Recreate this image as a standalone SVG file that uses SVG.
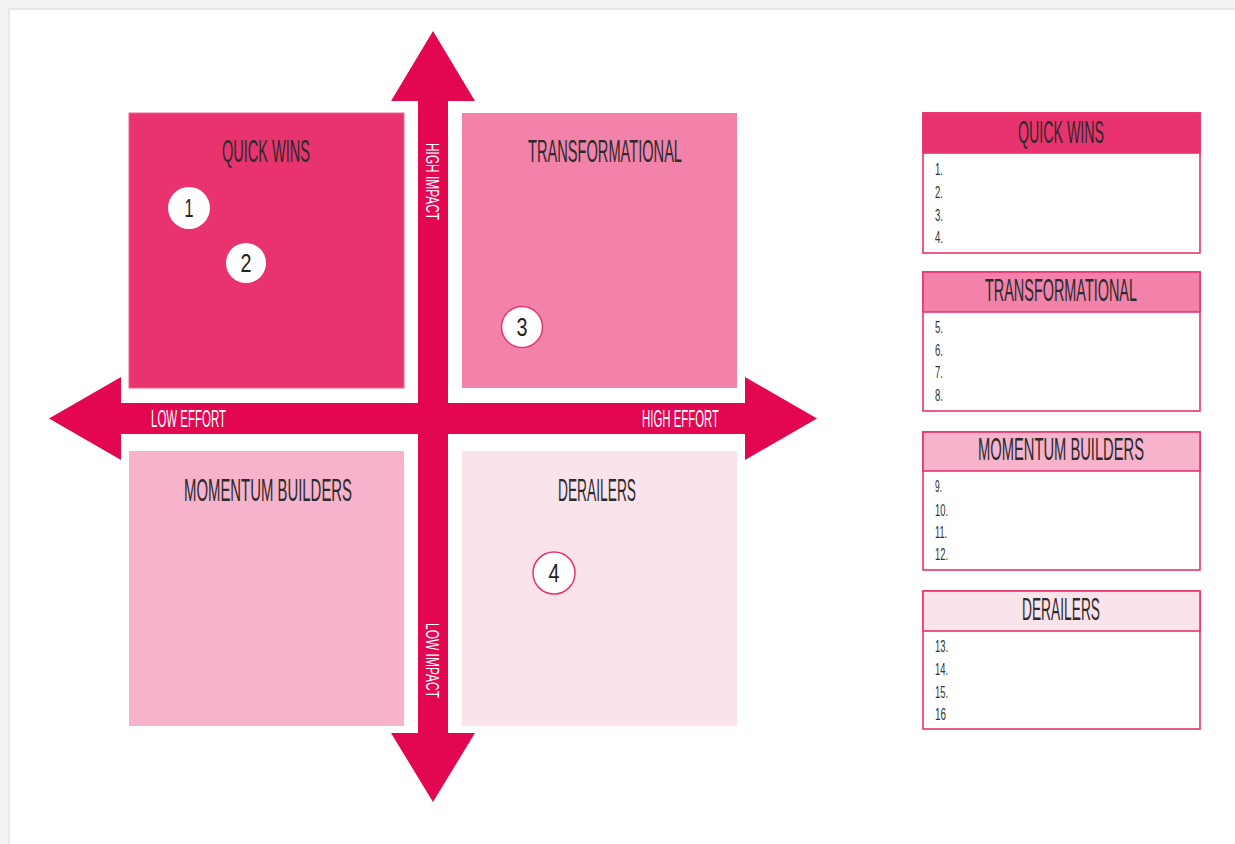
<svg xmlns="http://www.w3.org/2000/svg" width="1235" height="844" viewBox="0 0 1235 844">
<style>
.t{font-family:"Liberation Sans",Arial,sans-serif;fill:#2b2b2b;text-anchor:middle}
.ttl{font-size:21px}
.ax{font-family:"Liberation Sans",Arial,sans-serif;fill:#ffffff;font-size:23px}
.num{font-family:"Liberation Sans",Arial,sans-serif;fill:#222;font-size:26px;text-anchor:middle}
.li{font-family:"Liberation Sans",Arial,sans-serif;fill:#333;font-size:16px}
.box{stroke:#e8336f;stroke-width:1.6}
.q1{fill:#e8336f}.q2{fill:#f282aa}.q3{fill:#f6b3cb}.q4{fill:#fbe3ec}
.dot{fill:#ffffff}
.dotp{fill:#ffffff;stroke:#e8336f;stroke-width:1.5}
</style>
<rect x="0" y="0" width="1235" height="844" fill="#ffffff"/>
<rect x="0" y="0" width="1235" height="8" fill="#f2f2f2"/>
<rect x="0" y="8" width="1235" height="2" fill="#e6e6e6"/>
<rect x="0" y="0" width="8" height="844" fill="#f3f3f3"/>
<rect x="8" y="8" width="2" height="836" fill="#e8e8e8"/>

<g id="quick-wins">
<rect class="q1" x="129" y="113" width="275" height="275" stroke="#ee6593" stroke-width="1"/>
<text class="t ttl" transform="translate(266,162) scale(1,1.45)" textLength="88" lengthAdjust="spacingAndGlyphs">QUICK WINS</text>
</g>
<g id="transformational">
<rect class="q2" x="462" y="113" width="275" height="275"/>
<text class="t ttl" transform="translate(605,162) scale(1,1.45)" textLength="154" lengthAdjust="spacingAndGlyphs">TRANSFORMATIONAL</text>
</g>
<g id="momentum-builders">
<rect class="q3" x="129" y="451" width="275" height="275"/>
<text class="t ttl" transform="translate(268,501) scale(1,1.45)" textLength="168" lengthAdjust="spacingAndGlyphs">MOMENTUM BUILDERS</text>
</g>
<g id="derailers">
<rect class="q4" x="462" y="451" width="275" height="275"/>
<text class="t ttl" transform="translate(597,501) scale(1,1.45)" textLength="78" lengthAdjust="spacingAndGlyphs">DERAILERS</text>
</g>

<g id="connectors">
<path fill="#e30752" d="M433,31 L475,101 L448,101 L448,403 L745,403 L745,377 L817,418.5 L745,460 L745,434 L448,434 L448,733 L475,733 L433,802 L391,733 L418,733 L418,434 L121,434 L121,460 L49,418.5 L121,377 L121,403 L418,403 L418,101 L391,101 Z"/>
<text class="ax" x="151" y="427" textLength="75" lengthAdjust="spacingAndGlyphs">LOW EFFORT</text>
<text class="ax" x="642" y="427" textLength="77" lengthAdjust="spacingAndGlyphs">HIGH EFFORT</text>
<text class="ax" text-anchor="middle" transform="translate(433,181.5) rotate(90)" x="0" y="7" textLength="77" lengthAdjust="spacingAndGlyphs" style="font-size:19px">HIGH IMPACT</text>
<text class="ax" text-anchor="middle" transform="translate(433,660.5) rotate(90)" x="0" y="7" textLength="75" lengthAdjust="spacingAndGlyphs" style="font-size:19px">LOW IMPACT</text>
</g>

<g id="item-1"><circle class="dot" cx="189" cy="208" r="21"/><text class="num" x="189" y="217" textLength="9" lengthAdjust="spacingAndGlyphs">1</text></g>
<g id="item-2"><circle class="dot" cx="246" cy="263" r="20"/><text class="num" x="246" y="272" textLength="11" lengthAdjust="spacingAndGlyphs">2</text></g>
<g id="item-3"><circle class="dotp" cx="522" cy="327" r="20.5"/><text class="num" x="522" y="336" textLength="11" lengthAdjust="spacingAndGlyphs">3</text></g>
<g id="item-4"><circle class="dotp" cx="554" cy="573" r="21"/><text class="num" x="554" y="582" textLength="11" lengthAdjust="spacingAndGlyphs">4</text></g>

<g id="legend-quick-wins">
<rect class="box" x="923" y="113" width="277" height="140" fill="#ffffff"/>
<rect class="box q1" x="923" y="113" width="277" height="40"/>
<text class="t ttl" transform="translate(1061,143) scale(1,1.45)" textLength="86" lengthAdjust="spacingAndGlyphs">QUICK WINS</text>
<text class="li" x="935" y="175" textLength="8" lengthAdjust="spacingAndGlyphs">1.</text>
<text class="li" x="935" y="198" textLength="8" lengthAdjust="spacingAndGlyphs">2.</text>
<text class="li" x="935" y="221" textLength="8" lengthAdjust="spacingAndGlyphs">3.</text>
<text class="li" x="935" y="243" textLength="8" lengthAdjust="spacingAndGlyphs">4.</text>
</g>
<g id="legend-transformational">
<rect class="box" x="923" y="272" width="277" height="139" fill="#ffffff"/>
<rect class="box q2" x="923" y="272" width="277" height="40"/>
<text class="t ttl" transform="translate(1061,301) scale(1,1.45)" textLength="152" lengthAdjust="spacingAndGlyphs">TRANSFORMATIONAL</text>
<text class="li" x="935" y="333" textLength="8" lengthAdjust="spacingAndGlyphs">5.</text>
<text class="li" x="935" y="356" textLength="8" lengthAdjust="spacingAndGlyphs">6.</text>
<text class="li" x="935" y="378" textLength="8" lengthAdjust="spacingAndGlyphs">7.</text>
<text class="li" x="935" y="401" textLength="8" lengthAdjust="spacingAndGlyphs">8.</text>
</g>
<g id="legend-momentum-builders">
<rect class="box" x="923" y="432" width="277" height="138" fill="#ffffff"/>
<rect class="box q3" x="923" y="432" width="277" height="39"/>
<text class="t ttl" transform="translate(1061,460) scale(1,1.45)" textLength="166" lengthAdjust="spacingAndGlyphs">MOMENTUM BUILDERS</text>
<text class="li" x="935" y="492" textLength="7" lengthAdjust="spacingAndGlyphs">9.</text>
<text class="li" x="935" y="516" textLength="13" lengthAdjust="spacingAndGlyphs">10.</text>
<text class="li" x="935" y="538" textLength="12" lengthAdjust="spacingAndGlyphs">11.</text>
<text class="li" x="935" y="560" textLength="13" lengthAdjust="spacingAndGlyphs">12.</text>
</g>
<g id="legend-derailers">
<rect class="box" x="923" y="591" width="277" height="138" fill="#ffffff"/>
<rect class="box q4" x="923" y="591" width="277" height="40"/>
<text class="t ttl" transform="translate(1061,620) scale(1,1.45)" textLength="78" lengthAdjust="spacingAndGlyphs">DERAILERS</text>
<text class="li" x="935" y="652" textLength="13" lengthAdjust="spacingAndGlyphs">13.</text>
<text class="li" x="935" y="675" textLength="13" lengthAdjust="spacingAndGlyphs">14.</text>
<text class="li" x="935" y="698" textLength="13" lengthAdjust="spacingAndGlyphs">15.</text>
<text class="li" x="935" y="720" textLength="11" lengthAdjust="spacingAndGlyphs">16</text>
</g>
</svg>
